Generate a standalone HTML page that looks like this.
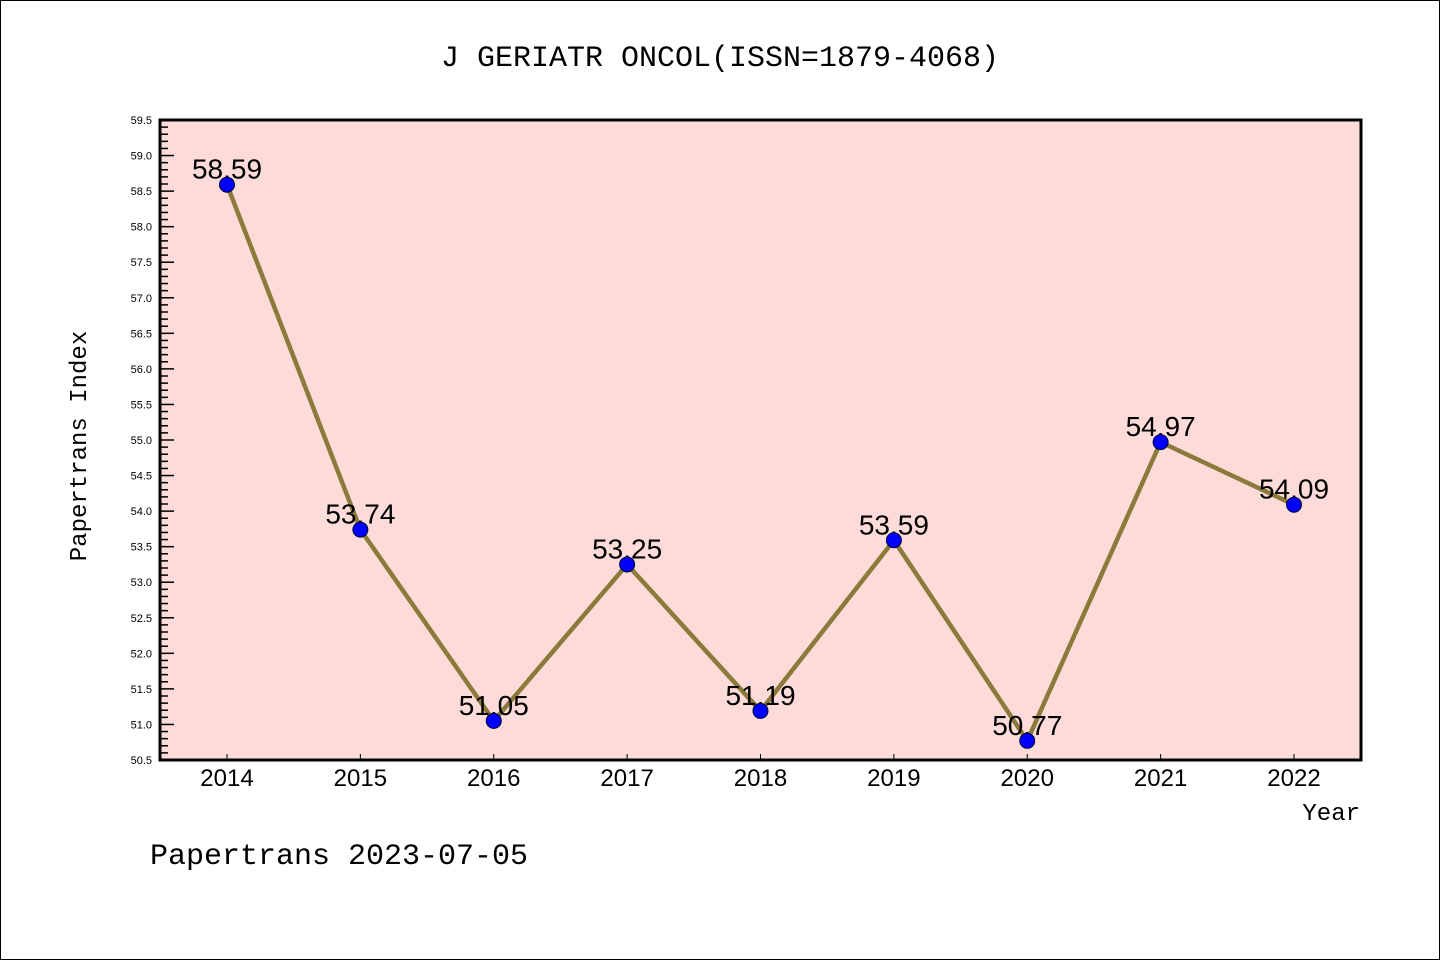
<!DOCTYPE html>
<html><head><meta charset="utf-8"><style>
body{margin:0;background:#fff;}
svg{display:block;font-family:"Liberation Sans","DejaVu Sans",sans-serif;}
.mono{font-family:"Liberation Mono","DejaVu Sans Mono",monospace;}
</style></head><body>
<svg id="chart" width="1440" height="960">
<rect x="0.5" y="0.5" width="1439" height="959" fill="#fff" stroke="#000"/>
<text x="720" y="66" text-anchor="middle" font-size="30" class="mono">J GERIATR ONCOL(ISSN=1879-4068)</text>
<rect x="160" y="120" width="1201" height="640" fill="#fddbd8"/>
<g id="axes"></g>
<g id="series"></g>
<rect x="160" y="120" width="1201" height="640" fill="none" stroke="#000" stroke-width="3"/>
<text x="86" y="446" transform="rotate(-90 86 446)" text-anchor="middle" font-size="24" class="mono">Papertrans Index</text>
<text x="1360" y="820" text-anchor="end" font-size="24" class="mono">Year</text>
<text x="150" y="864" font-size="30" class="mono">Papertrans 2023-07-05</text>
</svg>
<script>
const years=[2014,2015,2016,2017,2018,2019,2020,2021,2022];
const values=[58.59,53.74,51.05,53.25,51.19,53.59,50.77,54.97,54.09];
const labels=["58.59","53.74","51.05","53.25","51.19","53.59","50.77","54.97","54.09"];
const yTicks=[50.5,51.0,51.5,52.0,52.5,53.0,53.5,54.0,54.5,55.0,55.5,56.0,56.5,57.0,57.5,58.0,58.5,59.0,59.5];
const NS="http://www.w3.org/2000/svg";
const yMin=50.5,yMax=59.5;
function ys(v){return 760-(v-yMin)/(yMax-yMin)*640;}
function xs(i){return 227+i*133.375;}
function mk(t,a,p){const e=document.createElementNS(NS,t);for(const k in a)e.setAttribute(k,a[k]);p.appendChild(e);return e;}
const ax=document.getElementById('axes');
for(let k=0;k<=90;k++){
  const v=yMin+k*0.1;const y=ys(v);const major=k%5===0;
  const t=mk('line',{x1:160,x2:160+(major?14:8),y1:y,y2:y,stroke:'#000','stroke-width':1.5},ax);
  
  
}
yTicks.forEach(v=>{
  const t=mk('text',{x:152,y:ys(v)+4,'text-anchor':'end','font-size':11},ax);
  t.textContent=v.toFixed(1);
  
  
});
years.forEach((yr,i)=>{
  const l=mk('line',{x1:xs(i),x2:xs(i),y1:760,y2:754,stroke:'#000','stroke-width':1},ax);
  
  
  const t=mk('text',{x:xs(i),y:786,'text-anchor':'middle','font-size':24},ax);
  t.textContent=yr;
  
  
});
const s=document.getElementById('series');
const pl=mk('polyline',{points:values.map((v,i)=>xs(i)+','+ys(v)).join(' '),fill:'none',stroke:'#8b7a3a','stroke-width':4.5,'stroke-linejoin':'round'},s);


values.forEach((v,i)=>{
  const t=mk('text',{x:xs(i),y:ys(v)-6,'text-anchor':'middle','font-size':28},s);
  t.textContent=labels[i];
  
  
});
values.forEach((v,i)=>{
  const c=mk('circle',{cx:xs(i),cy:ys(v),r:7.5,fill:'#0000ff',stroke:'#000033','stroke-width':1},s);
  
  
});
</script>
</body></html>
